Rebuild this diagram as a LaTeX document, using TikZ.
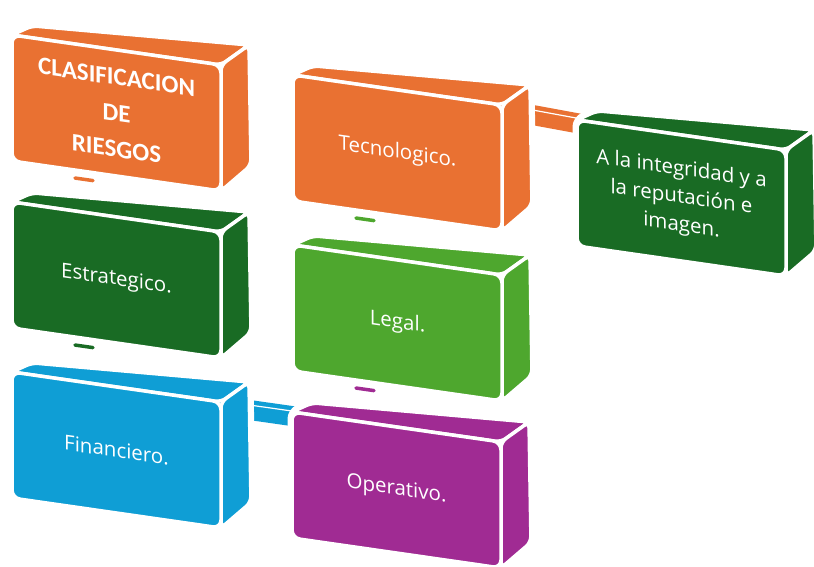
\documentclass[tikz,border=0pt]{standalone}
\usepackage{fontspec}
\setmainfont{Open Sans}
\newfontfamily\titlefont{Carlito}
\usepackage{tikz}
\usetikzlibrary{backgrounds}
\definecolor{OfficeOrange}{HTML}{E97132}
\definecolor{OfficeDarkGreen}{HTML}{196B24}
\definecolor{OfficeBlue}{HTML}{0F9ED5}
\definecolor{OfficePurple}{HTML}{A02B93}
\definecolor{OfficeGreen}{HTML}{4EA72E}
\tikzstyle{halo} = [draw=white, line width=9pt, rounded corners=7pt, line join=round]
\tikzstyle{face} = [draw=white, line width=3.5pt, rounded corners=6pt, line join=round]
\tikzstyle{front} = [rectangle, draw=white, line width=3.5pt, rounded corners=8pt,
  minimum width=209pt, minimum height=126pt, inner sep=0pt, text=white,
  font=\fontsize{20.5}{28}\selectfont, align=center, transform shape]
\tikzstyle{tab} = [line width=3.5pt, line cap=round]
\tikzstyle{bar} = [line width=2pt, draw=white, double distance=20pt]

% box: [node options], name, x, y, colour, text
\newcommand{\riskbox}[6][]{%
  \begin{scope}[shift={(#3,#4)}, yslant=-0.1435]
    \draw[halo] (0,126) -- (0,0) -- (20,-12) -- (237,-24) -- (239,96) -- (209,126) -- cycle;
    \filldraw[face, fill=#5] (0,0) -- (20,-12) -- (237,-24) -- (209,0) -- cycle;
    \filldraw[face, fill=#5] (209,0) -- (237,-24) -- (239,96) -- (209,126) -- cycle;
    \node[front, fill=#5, #1] (#2) at (104.5,63) {#6};
    \coordinate (#2-in) at (20,4);
    \coordinate (#2-out) at (200,4);
    \coordinate (#2-tabl) at (63,134);
    \coordinate (#2-tabr) at (81,134);
  \end{scope}}

\begin{document}
\begin{tikzpicture}[x=1pt, y=-1pt]

	\useasboundingbox (0,0) rectangle (814,567);

	% left column
	\riskbox[font=\titlefont\bfseries\fontsize{25}{36}\selectfont]{clas}{12}{35}{OfficeOrange}{CLASIFICACION\\DE\\RIESGOS}
	\riskbox{estr}{12}{202}{OfficeDarkGreen}{Estrategico.}
	\riskbox{fin}{12}{372}{OfficeBlue}{Financiero.}
	% right column
	\riskbox{tecno}{293}{75}{OfficeOrange}{Tecnologico.}
	\riskbox{legal}{293}{245}{OfficeGreen}{Legal.}
	\riskbox{oper}{292}{412}{OfficePurple}{Operativo.}
	\riskbox{integ}{577}{120}{OfficeDarkGreen}{A la integridad y a\\la reputación e\\imagen.}

	% bars behind the boxes
	\begin{pgfonlayer}{background}
		\draw[bar, double=OfficeOrange] (tecno-out) -- (integ-in);
		\draw[white, line width=1.2pt] ([yshift=5pt]tecno-out) -- ([yshift=5pt]integ-in);
		\draw[bar, double=OfficeBlue] (fin-out) -- (oper-in);
		\draw[white, line width=1.2pt] ([yshift=5pt]fin-out) -- ([yshift=5pt]oper-in);
	\end{pgfonlayer}

	% small tabs under the boxes
	\foreach \src/\clr in {clas/OfficeOrange, estr/OfficeDarkGreen, tecno/OfficeGreen, legal/OfficePurple} {
		\draw[tab, white, line width=6pt] (\src-tabl) -- (\src-tabr);
		\draw[tab, \clr] (\src-tabl) -- (\src-tabr);
	}

\end{tikzpicture}
\end{document}
